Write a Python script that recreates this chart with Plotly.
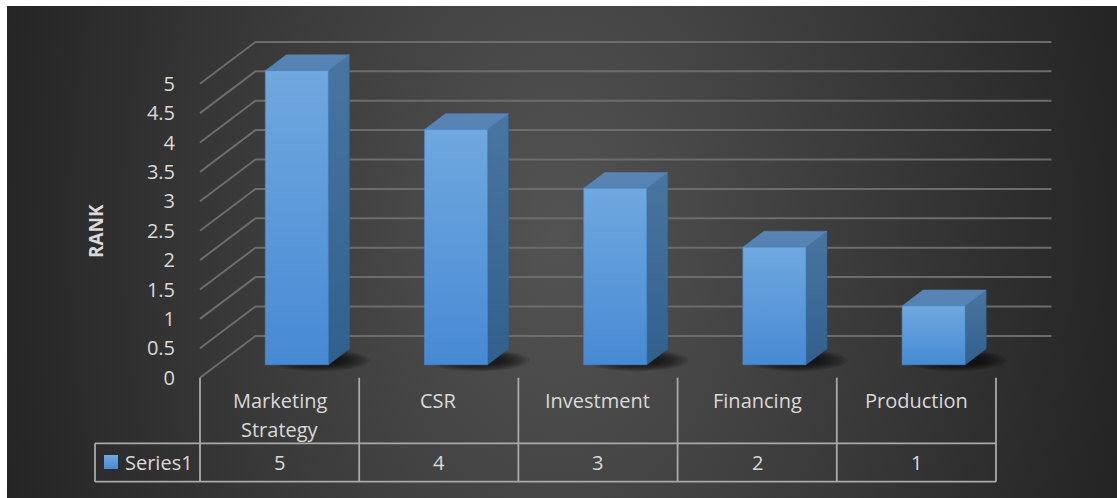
import math
import textwrap
import plotly.graph_objects as go

# ---- data -------------------------------------------------------------
categories = ["Marketing Strategy", "CSR", "Investment", "Financing", "Production"]
series_name = "Series1"
rank_values = [5, 4, 3, 2, 1]
y_ticks = [0, 0.5, 1, 1.5, 2, 2.5, 3, 3.5, 4, 4.5, 5]
y_title = "RANK"

# ---- oblique 3-D projection ------------------------------------------
# x unit = one category slot, y unit = one rank point (front floor plane).
# A point at depth d (0 = front edge of floor, 1 = back wall) is shifted
# right by d*DU and up by d*DV.
DU = 0.3486
DV = 0.7109
BAR_HALF = 0.198          # half bar width in category units
D_FRONT, D_BACK = 0.31, 0.69

X_RANGE = [-1.7123, 5.2601]
Y_RANGE = [-2.0459, 6.3214]

FONT = "Open Sans"
FSIZE = 20
TXT = "#d9d9d9"
GRID = "#6c6c6c"
TABLE = "#a9a9a9"


def proj(u, v, d):
    return u + d * DU, v + d * DV


def poly(points):
    xs = [p[0] for p in points] + [points[0][0]]
    ys = [p[1] for p in points] + [points[0][1]]
    return xs, ys


fig = go.Figure()

# background: soft radial glow centred slightly left of the middle
bg_cx, bg_cy, bg_rx, bg_ry = 1.74, 2.44, 4.1, 17.0
fig.add_trace(go.Scatter(
    x=[bg_cx - bg_rx, bg_cx + bg_rx, bg_cx + bg_rx, bg_cx - bg_rx, bg_cx - bg_rx],
    y=[bg_cy - bg_ry, bg_cy - bg_ry, bg_cy + bg_ry, bg_cy + bg_ry, bg_cy - bg_ry],
    mode="lines", fill="toself", line=dict(width=0),
    fillgradient=dict(type="radial",
                      colorscale=[[0, "#535353"], [0.85, "#262626"], [1, "#1f1f1f"]]),
    hoverinfo="skip", showlegend=False,
))

# walls: back-wall gridlines and side-wall diagonals
n = len(categories)
left, right = -0.5, n - 0.5
gx, gy = [], []
for t in y_ticks:
    a = proj(left, t, 0)
    b = proj(left, t, 1)
    c = proj(right, t, 1)
    gx += [a[0], b[0], c[0], None]
    gy += [a[1], b[1], c[1], None]
fig.add_trace(go.Scatter(x=gx, y=gy, mode="lines",
                         line=dict(color=GRID, width=2),
                         hoverinfo="skip", showlegend=False))

# soft floor shadows under the columns, cast towards the right
for i, val in enumerate(rank_values):
    cu, cv = proj(i + 0.07, -0.06, 0.5)
    for k in range(10):
        s = 1.0 - k * 0.06
        rx, ry = 0.325 * s, 0.19 * s
        pts = []
        for j in range(41):
            a = 2 * math.pi * j / 40
            pts.append((cu + rx * math.cos(a), cv + ry * math.sin(a)))
        xs, ys = poly(pts)
        fig.add_trace(go.Scatter(x=xs, y=ys, mode="lines", fill="toself",
                                 line=dict(width=0), fillcolor="rgba(0,0,0,0.09)",
                                 hoverinfo="skip", showlegend=False))

# 3-D columns
for i, val in enumerate(rank_values):
    l, r = i - BAR_HALF, i + BAR_HALF
    front = [proj(l, 0, D_FRONT), proj(r, 0, D_FRONT),
             proj(r, val, D_FRONT), proj(l, val, D_FRONT)]
    side = [proj(r, 0, D_FRONT), proj(r, 0, D_BACK),
            proj(r, val, D_BACK), proj(r, val, D_FRONT)]
    top = [proj(l, val, D_FRONT), proj(r, val, D_FRONT),
           proj(r, val, D_BACK), proj(l, val, D_BACK)]
    for pts, scale in (
        (side, [[0, "#31608d"], [1, "#48769f"]]),
        (top, [[0, "#5482b3"], [1, "#5985b5"]]),
        (front, [[0, "#468ad4"], [1, "#70a8df"]]),
    ):
        xs, ys = poly(pts)
        fig.add_trace(go.Scatter(
            x=xs, y=ys, mode="lines", fill="toself",
            line=dict(width=0.6, color=scale[0][1]),
            fillgradient=dict(type="vertical", colorscale=scale),
            hoverinfo="skip", showlegend=False,
        ))

# ---- data table under the plot ----------------------------------------
row1_bottom = -1.1156
row2_bottom = -1.7687
key_left = -1.1595
tx, ty = [], []
for k in range(n + 1):
    tx += [k - 0.5, k - 0.5, None]
    ty += [0, row2_bottom, None]
tx += [key_left, right, None, key_left, right, None, key_left, key_left, None]
ty += [row1_bottom, row1_bottom, None, row2_bottom, row2_bottom, None,
       row1_bottom, row2_bottom, None]
fig.add_trace(go.Scatter(x=tx, y=ty, mode="lines",
                         line=dict(color=TABLE, width=1.8),
                         hoverinfo="skip", showlegend=False))

# legend key of the series
kx, ky = poly([(-1.103, -1.553), (-1.015, -1.553), (-1.015, -1.315), (-1.103, -1.315)])
fig.add_trace(go.Scatter(x=kx, y=ky, mode="lines", fill="toself", line=dict(width=0),
                         fillgradient=dict(type="vertical",
                                           colorscale=[[0, "#468ad4"], [1, "#70a8df"]]),
                         hoverinfo="skip", showlegend=False))

annotations = []
line_step = 0.493
row_mid = (row1_bottom + row2_bottom) / 2
for i, cat in enumerate(categories):
    for j, line in enumerate(textwrap.wrap(cat, 12)):
        annotations.append(dict(x=i, y=-0.396 - j * line_step, text=line,
                                showarrow=False, xanchor="center", yanchor="middle",
                                font=dict(family=FONT, size=FSIZE, color=TXT)))
    annotations.append(dict(x=i, y=row_mid, text=str(rank_values[i]),
                            showarrow=False, xanchor="center", yanchor="middle",
                            font=dict(family=FONT, size=FSIZE, color=TXT)))
annotations.append(dict(x=-0.9837, y=row_mid, text=series_name,
                        showarrow=False, xanchor="left", yanchor="middle",
                        font=dict(family=FONT, size=FSIZE, color=TXT)))
annotations.append(dict(x=-1.153, y=2.495, text="<b>%s</b>" % y_title, textangle=-90,
                        showarrow=False, xanchor="center", yanchor="middle",
                        font=dict(family=FONT, size=19, color=TXT)))

fig.update_layout(
    width=1117, height=498,
    margin=dict(l=7, r=0, t=6, b=0, pad=0),
    paper_bgcolor="white", plot_bgcolor="#2a2a2a",
    showlegend=False,
    annotations=annotations,
    xaxis=dict(range=X_RANGE, visible=False, fixedrange=True),
    yaxis=dict(range=Y_RANGE, anchor="free", position=193 / 1110,
               tickvals=y_ticks, ticktext=[("%g" % t) for t in y_ticks],
               ticks="", showgrid=False, zeroline=False, showline=False,
               ticklabelstandoff=25,
               tickfont=dict(family=FONT, size=FSIZE, color=TXT), fixedrange=True),
)

fig.write_html("out.html")
